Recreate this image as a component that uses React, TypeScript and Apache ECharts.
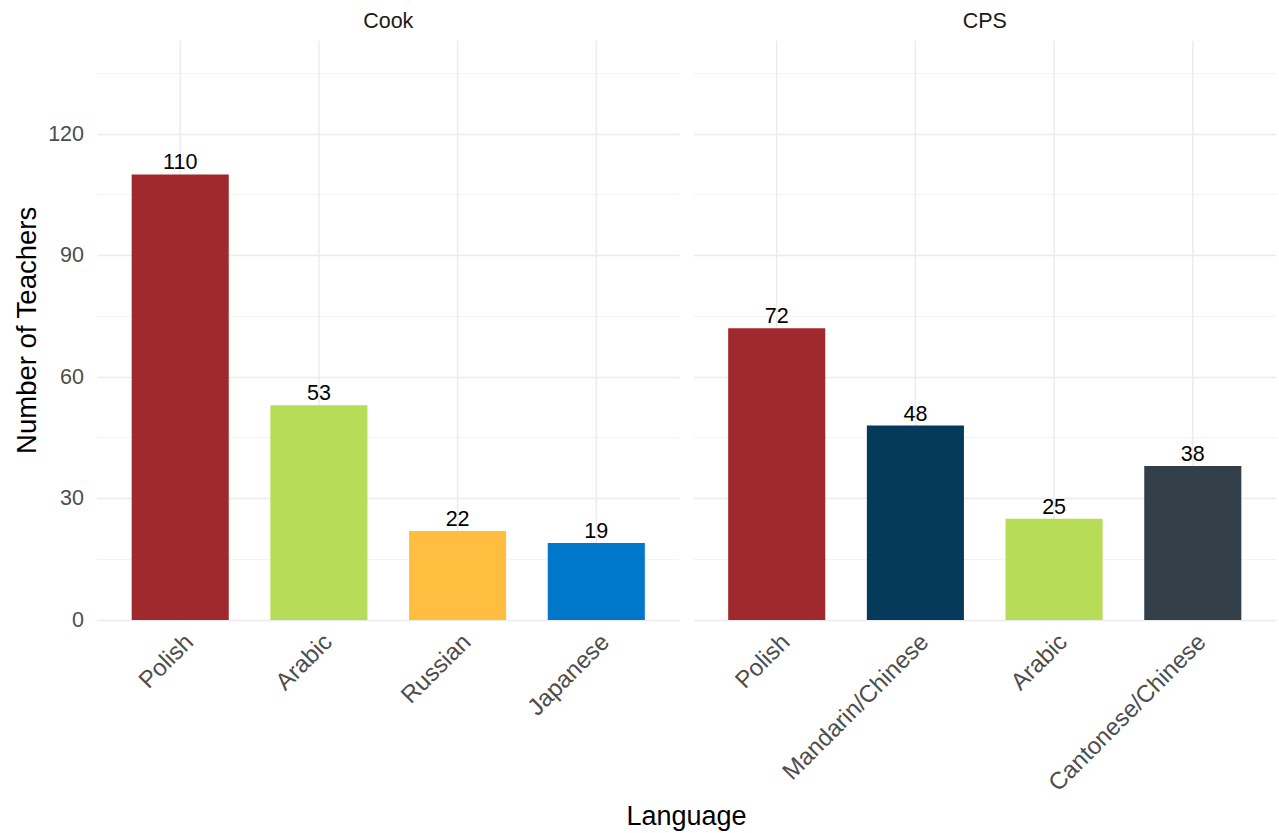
import React, { useEffect, useRef } from "react";
import * as echarts from "echarts";

const cookLanguages = ["Polish", "Arabic", "Russian", "Japanese"];
const cookTeachers = [110, 53, 22, 19];
const cookColors = ["#A0292D", "#B7DC57", "#FFBE40", "#0077C8"];

const cpsLanguages = ["Polish", "Mandarin/Chinese", "Arabic", "Cantonese/Chinese"];
const cpsTeachers = [72, 48, 25, 38];
const cpsColors = ["#A0292D", "#063A5A", "#B7DC57", "#333F48"];

const panelTitles = ["Cook", "CPS"];
const yTitle = "Number of Teachers";
const xTitle = "Language";
const Y_MAX = 143;
const MAJOR_STEP = 30;
const MINOR_STEP = 15;

const FONT = "Liberation Sans, Arial, Helvetica, sans-serif";

export default function App() {
  const ref = useRef<HTMLDivElement>(null);

  useEffect(() => {
    if (!ref.current) return;
    const chart = echarts.init(ref.current, undefined, { renderer: "svg" });

    const panelLeft = [97, 693.5];
    const panelWidth = 582.5;
    const top = 40.7;
    const height = 579.3;
    const pad = (panelWidth * 0.1) / 4.2;

    const grids: any[] = [];
    const xAxes: any[] = [];
    const yAxes: any[] = [];
    const series: any[] = [];

    const panels = [
      { cats: cookLanguages, vals: cookTeachers, cols: cookColors },
      { cats: cpsLanguages, vals: cpsTeachers, cols: cpsColors },
    ];

    panels.forEach((p, pi) => {
      const bg = grids.length;
      grids.push({ left: panelLeft[pi], top, width: panelWidth, height, containLabel: false });
      xAxes.push({ gridIndex: bg, type: "value", min: 0, max: 1, show: false });
      yAxes.push({
        gridIndex: bg, type: "value", min: 0, max: Y_MAX, interval: MINOR_STEP, position: "left",
        z: 0,
        axisLine: { show: false }, axisTick: { show: false }, axisLabel: { show: false },
        splitLine: { show: true, showMaxLine: false, lineStyle: { color: "#f3f3f3", width: 1 } },
      });
      yAxes.push({
        gridIndex: bg, type: "value", min: 0, max: Y_MAX, interval: MAJOR_STEP, position: "left",
        z: 1,
        axisLine: { show: false }, axisTick: { show: false },
        axisLabel: {
          show: pi === 0, color: "#4d4d4d", fontSize: 21.5, fontFamily: FONT, margin: 13,
          showMaxLabel: false,
          formatter: (v: number) => (v % MAJOR_STEP === 0 ? String(v) : ""),
        },
        splitLine: { show: true, showMaxLine: false, lineStyle: { color: "#ebebeb", width: 1.4 } },
      });

      const gi = grids.length;
      grids.push({ left: panelLeft[pi] + pad, top, width: panelWidth - 2 * pad, height, containLabel: false });
      xAxes.push({
        gridIndex: gi, type: "category", data: p.cats, boundaryGap: true,
        axisLine: { show: false }, axisTick: { show: false }, splitLine: { show: false },
        axisLabel: {
          interval: 0, rotate: 45, color: "#4d4d4d", fontSize: 24, fontFamily: FONT, margin: 9,
          verticalAlign: "top",
        },
      });
      const xi = xAxes.length - 1;
      yAxes.push({
        gridIndex: gi, type: "value", min: 0, max: Y_MAX, show: false,
        splitLine: { show: false },
      });
      const yi = yAxes.length - 1;

      series.push({
        type: "custom",
        xAxisIndex: xi, yAxisIndex: yi,
        z: 1, silent: true,
        data: p.cats.map((_, i) => [i, 0]),
        encode: { x: 0, y: 1 },
        renderItem: (_params: any, api: any) => {
          const x = api.value(0);
          const a = api.coord([x, 0]);
          const b = api.coord([x, Y_MAX]);
          return {
            type: "line",
            shape: { x1: a[0], y1: a[1], x2: b[0], y2: b[1] },
            style: { stroke: "#ebebeb", lineWidth: 1.4 },
            silent: true,
          };
        },
      });

      series.push({
        type: "bar",
        xAxisIndex: xi, yAxisIndex: yi,
        z: 2,
        barWidth: "70%",
        data: p.vals.map((v, i) => ({ value: v, itemStyle: { color: p.cols[i] } })),
        label: {
          show: true, position: "top", distance: 1, color: "#000000",
          fontSize: 21.5, fontFamily: FONT,
        },
      });
    });

    const graphic: any[] = [
      {
        type: "text", x: panelLeft[0] + panelWidth / 2, y: 21,
        style: { text: panelTitles[0], fill: "#1a1a1a", font: `21.5px ${FONT}`, textAlign: "center", textVerticalAlign: "middle" },
      },
      {
        type: "text", x: panelLeft[1] + panelWidth / 2, y: 21,
        style: { text: panelTitles[1], fill: "#1a1a1a", font: `21.5px ${FONT}`, textAlign: "center", textVerticalAlign: "middle" },
      },
      {
        type: "text", x: 26, y: top + height / 2, rotation: Math.PI / 2,
        style: { text: yTitle, fill: "#000000", font: `27.5px ${FONT}`, textAlign: "center", textVerticalAlign: "middle" },
      },
      {
        type: "text", x: (panelLeft[0] + panelLeft[1] + panelWidth) / 2, y: 816,
        style: { text: xTitle, fill: "#000000", font: `27px ${FONT}`, textAlign: "center", textVerticalAlign: "middle" },
      },
    ];

    chart.setOption({
      animation: false,
      backgroundColor: "#ffffff",
      textStyle: { fontFamily: FONT },
      grid: grids,
      xAxis: xAxes,
      yAxis: yAxes,
      series,
      graphic,
    });

    return () => chart.dispose();
  }, []);

  return (
    <div
      ref={ref}
      style={{ position: "fixed", left: 0, top: 0, width: 1279, height: 833, background: "#fff" }}
    />
  );
}
